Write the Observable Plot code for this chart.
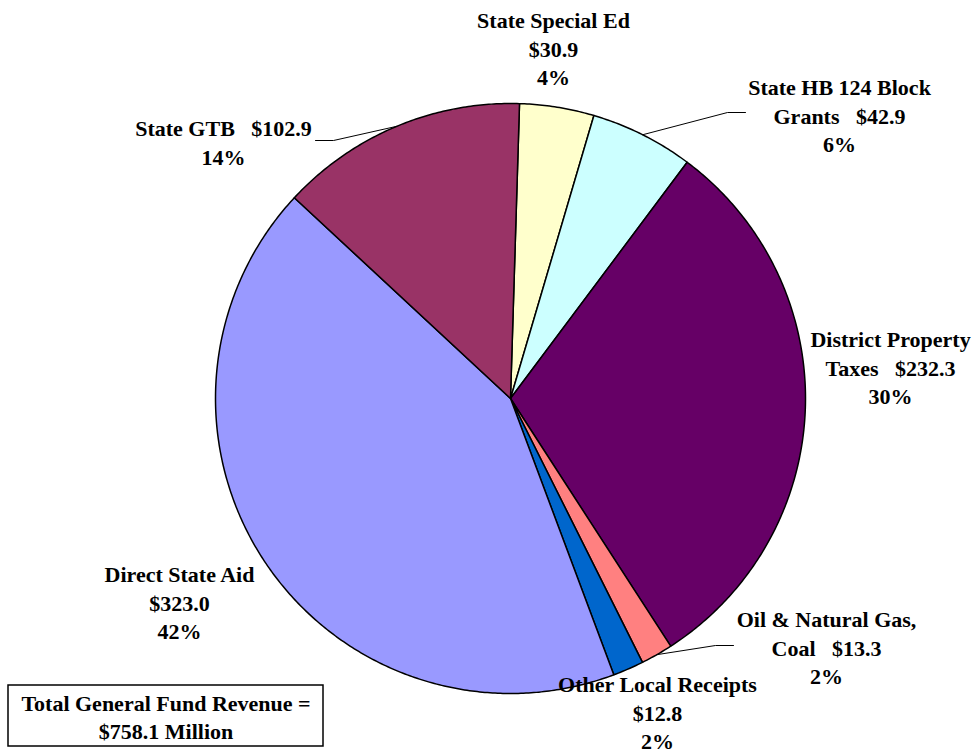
<!DOCTYPE html>
<html>
<head>
<meta charset="utf-8">
<script src="https://cdn.jsdelivr.net/npm/d3@7"></script>
<script src="https://cdn.jsdelivr.net/npm/@observablehq/plot@0.6"></script>
<style>
  html, body { margin: 0; padding: 0; background: #fff; }
  #chart svg text { white-space: pre; }
</style>
</head>
<body>
<div id="chart"></div>
<script>
// ---- Data ----
const categories = [
  "State Special Ed",
  "State HB 124 Block Grants",
  "District Property Taxes",
  "Oil & Natural Gas, Coal",
  "Other Local Receipts",
  "Direct State Aid",
  "State GTB"
];
const values = [30.9, 42.9, 232.3, 13.3, 12.8, 323.0, 102.9];
const percentLabels = ["4%", "6%", "30%", "2%", "2%", "42%", "14%"];
const nameLines = [
  "State Special Ed\n",
  "State HB 124 Block\nGrants   ",
  "District Property\nTaxes   ",
  "Oil & Natural Gas,\nCoal   ",
  "Other Local Receipts\n",
  "Direct State Aid\n",
  "State GTB   "
];
const totalLabel = "Total General Fund Revenue =\n$758.1 Million";

// ---- Styles / layout ----
const sliceColors = ["#FFFFCC", "#CCFFFF", "#660066", "#FF8080", "#0066CC", "#9999FF", "#993366"];
const W = 976, H = 752;
const pieCenter = [510, 398];
const pieRadius = 295;
const startDeg = 1.75;
// label block centres (px, in chart frame)
const labelPos = [
  [553, 47], [839, 114], [890, 366], [826, 646], [657, 711], [179, 601], [223, 141]
];
// leader lines: [categoryIndex, knee, end]
const leaders = [
  [1, [727, 112], [745, 112]],
  [3, [715, 645], [733, 645]],
  [6, [333, 140], [315, 140]]
];
const totalBox = {x1: 8, x2: 323, y1: 685, y2: 746};

// ---- Derived geometry ----
const total = d3.sum(values);
const slices = [];
{
  let a = startDeg;
  values.forEach((v, i) => {
    const span = v / total * 360;
    slices.push({category: categories[i], a0: a, a1: a + span, mid: a + span / 2});
    a += span;
  });
}
const polar = (deg, r) => {
  const t = deg * Math.PI / 180;
  return [pieCenter[0] + r * Math.sin(t), pieCenter[1] - r * Math.cos(t)];
};
const polyPoints = [];
slices.forEach(s => {
  polyPoints.push({category: s.category, x: pieCenter[0], y: pieCenter[1]});
  const n = Math.max(2, Math.ceil((s.a1 - s.a0) / 0.5));
  for (let k = 0; k <= n; k++) {
    const [x, y] = polar(s.a0 + (s.a1 - s.a0) * k / n, pieRadius);
    polyPoints.push({category: s.category, x, y});
  }
});
const labels = categories.map((c, i) => ({
  category: c,
  x: labelPos[i][0],
  y: labelPos[i][1],
  text: nameLines[i] + "$" + values[i].toFixed(1) + "\n" + percentLabels[i]
}));
const leaderPoints = [];
leaders.forEach(([i, knee, end]) => {
  const [rx, ry] = polar(slices[i].mid, pieRadius);
  leaderPoints.push({k: i, x: rx, y: ry});
  leaderPoints.push({k: i, x: knee[0], y: knee[1]});
  leaderPoints.push({k: i, x: end[0], y: end[1]});
});

const font = "'Liberation Serif', 'Times New Roman', serif";

const chart = Plot.plot({
  width: W,
  height: H,
  margin: 0,
  x: {domain: [0, W], range: [0, W], axis: null},
  y: {domain: [0, H], range: [0, H], axis: null},
  color: {domain: categories, range: sliceColors},
  style: {background: "#fff", fontFamily: font},
  marks: [
    Plot.line(polyPoints, {
      x: "x", y: "y", z: "category", fill: "category",
      stroke: "#000", strokeWidth: 1.5, strokeLinejoin: "round",
      curve: "linear-closed"
    }),
    Plot.line(leaderPoints, {x: "x", y: "y", z: "k", stroke: "#000", strokeWidth: 1}),
    Plot.text(labels, {
      x: "x", y: "y", text: "text",
      fontSize: 22, fontWeight: "bold", fontFamily: font,
      lineHeight: 1.3, fill: "#000", textAnchor: "middle"
    }),
    Plot.rect([totalBox], {x1: "x1", x2: "x2", y1: "y1", y2: "y2", fill: "#fff", stroke: "#000", strokeWidth: 1.5}),
    Plot.text([totalBox], {
      x: d => (d.x1 + d.x2) / 2, y: d => (d.y1 + d.y2) / 2, text: () => totalLabel,
      fontSize: 22, fontWeight: "bold", fontFamily: font,
      lineHeight: 1.3, fill: "#000", textAnchor: "middle"
    })
  ]
});
document.getElementById("chart").append(chart);
</script>
</body>
</html>
